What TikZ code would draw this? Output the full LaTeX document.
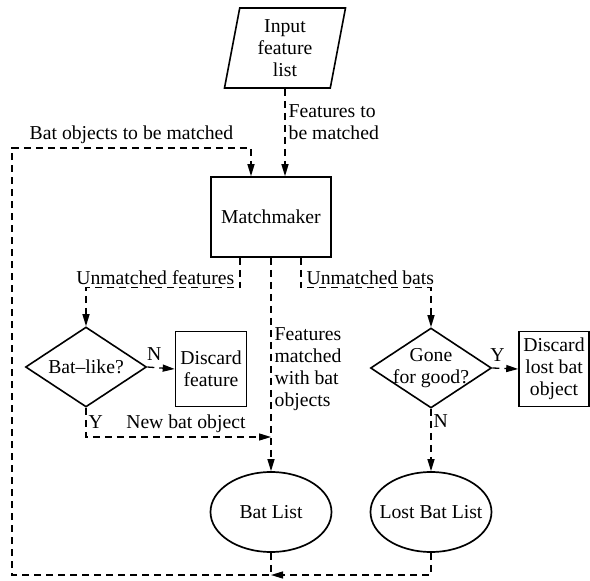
\documentclass[tikz,border=0pt]{standalone}
\usepackage{fontspec}
\setmainfont{Liberation Serif}
\usetikzlibrary{arrows.meta,positioning,shapes.geometric}

\begin{document}
\begin{tikzpicture}[x=1pt,y=-1pt,
  font=\fontsize{19.7}{22}\selectfont,
  line width=1.3pt,
  io/.style={trapezium,draw,line width=1.6pt,trapezium left angle=76,trapezium right angle=104,trapezium stretches body,minimum width=121pt,minimum height=80pt,align=center,inner sep=2pt},
  proc/.style={rectangle,draw,line width=1.6pt,align=center,inner sep=3pt},
  dec/.style={diamond,draw,line width=1.6pt,aspect=1.5,inner sep=-8pt,minimum width=121pt,minimum height=80pt,align=center},
  store/.style={ellipse,draw,line width=1.7pt,inner xsep=-9pt,minimum width=121pt,minimum height=80pt},
  ar/.style={-{Triangle[length=12pt,width=7pt]},dash pattern=on 7pt off 5pt},
  lbl/.style={align=left,inner sep=3pt},
  branch/.style={inner xsep=5pt,inner ysep=2pt}]
\useasboundingbox (0,0) rectangle (590,581);
\node[io] (in) at (285,48) {Input\\feature\\list};
\node[proc,minimum width=120pt,minimum height=80pt] (mm) at (271,217) {Matchmaker};
\node[dec] (bl) at (86,367) {Bat--like?};
\node[proc,minimum width=71pt,minimum height=75pt] (df) at (211,369) {Discard\\feature};
\node[dec] (gg) at (431,368) {Gone\\for good?};
\node[proc,minimum width=70pt,minimum height=75pt] (dl) at (554,369) {Discard\\lost bat\\object};
\node[store] (bat) at (271,512) {Bat List};
\node[store] (lost) at (431,512) {Lost Bat List};
\coordinate (nb) at (mm.south |- 0,437);
\coordinate (jn) at (bat.south |- 0,575);
\coordinate (lt) at (12,148);
\draw[ar] (in.south) -- node[lbl,right,pos=0.38]{Features to\\be matched} (in.south |- mm.north);
\draw[ar] ([xshift=-31pt]mm.south) -- ++(0,30) node[branch,anchor=south east]{Unmatched features} -| (bl.north);
\draw[ar] ([xshift=30pt]mm.south) -- ++(0,30) node[branch,anchor=south west]{Unmatched bats} -| (gg.north);
\draw[ar] (mm.south) -- node[lbl,right,pos=0.52]{Features\\matched\\with bat\\objects} (bat.north);
\draw[ar] (bl.east) -- node[pos=0.25,above,yshift=3pt]{N} (df.west);
\draw[ar] (bl.south) |- node[pos=0.25,right,inner sep=2pt]{Y} node[pos=0.77,above]{New bat object} (nb);
\draw[ar] (gg.east) -- node[pos=0.2,above,yshift=3pt]{Y} (dl.west);
\draw[ar] (gg.south) -- node[pos=0.2,right,inner sep=2pt]{N} (lost.north);
\draw[ar] (lost.south) |- (jn);
\draw[ar] (bat.south) -- (jn) -| (lt) -| node[pos=0.25,above]{Bat objects to be matched} ([xshift=-20pt]mm.north);
\end{tikzpicture}
\end{document}
